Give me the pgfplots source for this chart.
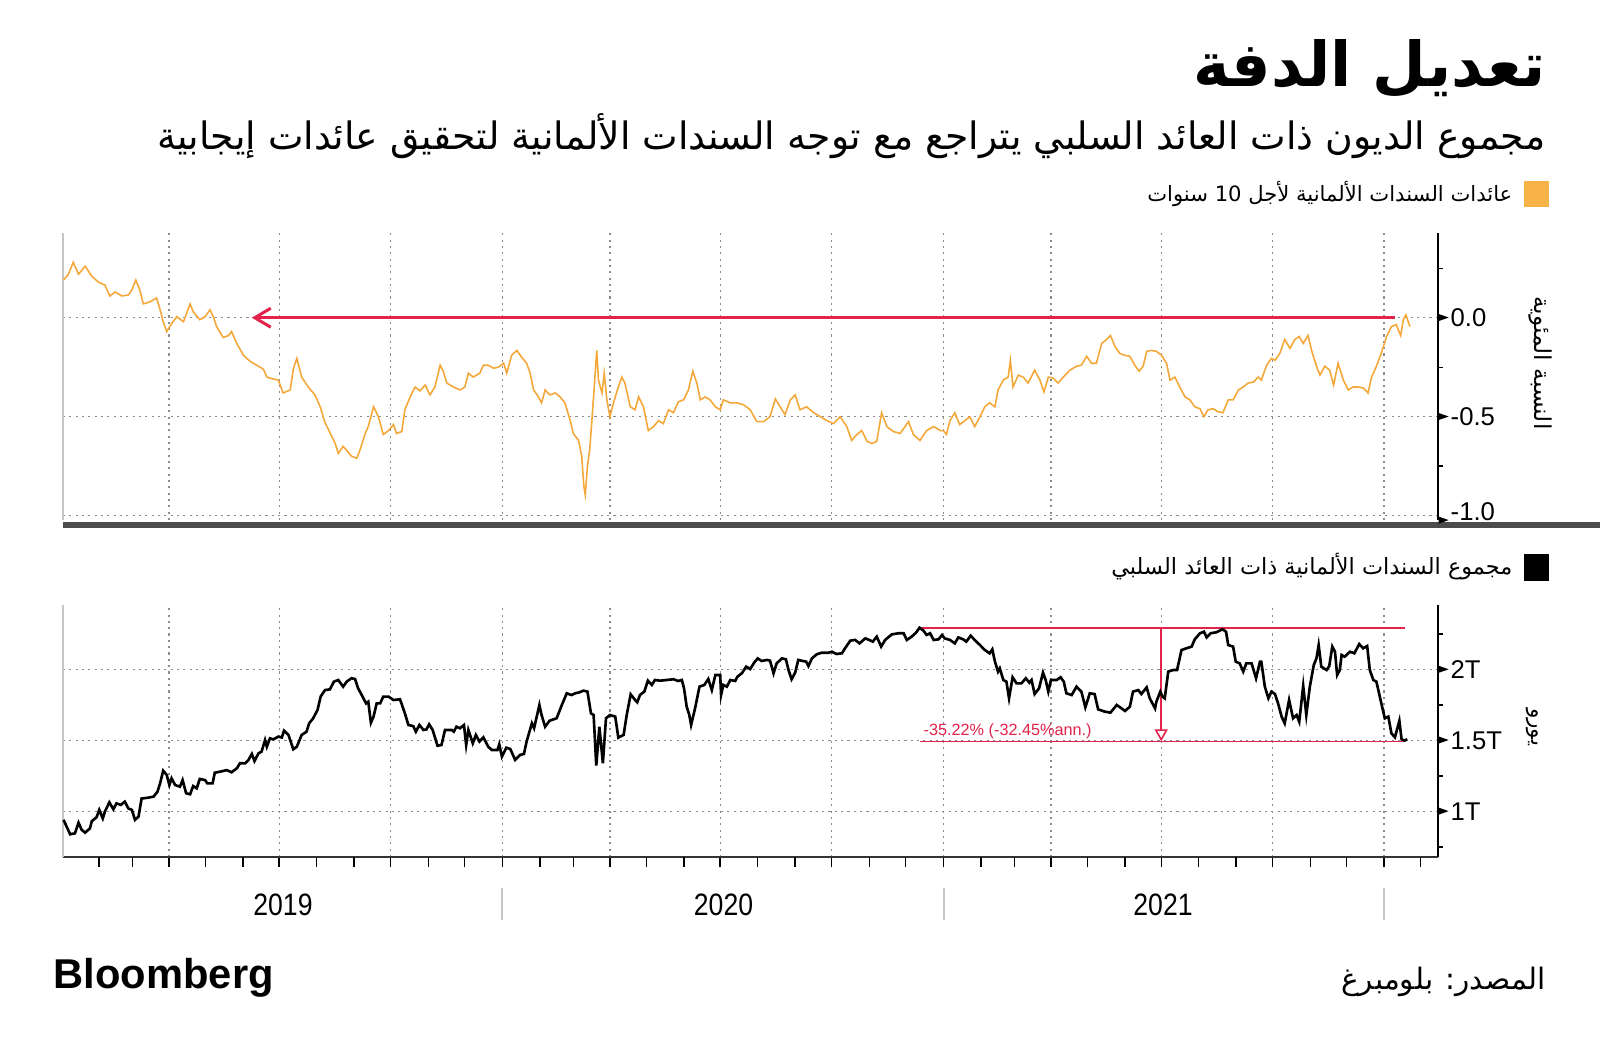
\documentclass[border=0pt]{standalone}
\usepackage{pgfplots}
\pgfplotsset{compat=1.18}
\usepackage{pgfplotstable}
\usetikzlibrary{arrows.meta}
\usepackage{fontspec}
\setmainfont{Liberation Sans}
\newfontfamily\arabicfont[Script=Arabic]{DejaVu Sans}
\TeXXeTstate=1
\definecolor{yorange}{RGB}{244,168,58}
\definecolor{legorange}{RGB}{247,178,72}
\definecolor{annred}{RGB}{226,35,75}
\definecolor{gridgray}{RGB}{140,140,140}

\pgfplotstableread{
t v
2019.008 0.19
2019.019 0.22
2019.030 0.28
2019.042 0.22
2019.057 0.26
2019.072 0.21
2019.087 0.18
2019.102 0.165
2019.113 0.11
2019.125 0.13
2019.140 0.11
2019.155 0.115
2019.163 0.14
2019.172 0.19
2019.181 0.14
2019.189 0.07
2019.204 0.08
2019.219 0.10
2019.227 0.04
2019.234 -0.02
2019.242 -0.07
2019.253 -0.03
2019.265 0.005
2019.280 -0.02
2019.295 0.07
2019.302 0.03
2019.317 -0.01
2019.329 0.005
2019.340 0.04
2019.348 0.005
2019.355 -0.045
2019.370 -0.10
2019.382 -0.09
2019.389 -0.07
2019.401 -0.13
2019.416 -0.19
2019.431 -0.22
2019.446 -0.24
2019.461 -0.26
2019.469 -0.30
2019.484 -0.31
2019.495 -0.315
2019.506 -0.38
2019.522 -0.365
2019.529 -0.26
2019.537 -0.205
2019.548 -0.30
2019.563 -0.35
2019.578 -0.39
2019.590 -0.45
2019.601 -0.53
2019.612 -0.58
2019.624 -0.635
2019.631 -0.685
2019.642 -0.65
2019.650 -0.67
2019.661 -0.70
2019.673 -0.71
2019.680 -0.67
2019.692 -0.585
2019.699 -0.55
2019.711 -0.45
2019.722 -0.50
2019.733 -0.59
2019.745 -0.57
2019.756 -0.54
2019.763 -0.585
2019.775 -0.575
2019.782 -0.465
2019.794 -0.40
2019.805 -0.35
2019.816 -0.37
2019.828 -0.34
2019.839 -0.39
2019.850 -0.35
2019.862 -0.24
2019.869 -0.27
2019.877 -0.33
2019.892 -0.35
2019.907 -0.365
2019.918 -0.35
2019.926 -0.28
2019.937 -0.30
2019.952 -0.28
2019.960 -0.24
2019.971 -0.24
2019.983 -0.255
2019.994 -0.25
2020.006 -0.23
2020.013 -0.28
2020.024 -0.19
2020.036 -0.165
2020.047 -0.20
2020.058 -0.23
2020.066 -0.28
2020.074 -0.365
2020.085 -0.40
2020.092 -0.43
2020.100 -0.365
2020.111 -0.39
2020.123 -0.38
2020.134 -0.40
2020.145 -0.43
2020.157 -0.52
2020.164 -0.585
2020.176 -0.62
2020.183 -0.70
2020.188 -0.855
2020.191 -0.895
2020.196 -0.75
2020.201 -0.67
2020.206 -0.52
2020.211 -0.365
2020.217 -0.165
2020.221 -0.315
2020.229 -0.38
2020.234 -0.28
2020.240 -0.415
2020.247 -0.50
2020.255 -0.43
2020.266 -0.35
2020.274 -0.30
2020.281 -0.33
2020.293 -0.45
2020.304 -0.465
2020.312 -0.40
2020.323 -0.45
2020.334 -0.57
2020.346 -0.55
2020.357 -0.52
2020.368 -0.535
2020.380 -0.465
2020.391 -0.48
2020.402 -0.425
2020.414 -0.415
2020.425 -0.365
2020.435 -0.27
2020.444 -0.33
2020.452 -0.415
2020.463 -0.40
2020.474 -0.415
2020.486 -0.45
2020.497 -0.465
2020.504 -0.415
2020.520 -0.43
2020.535 -0.43
2020.550 -0.44
2020.565 -0.465
2020.580 -0.525
2020.595 -0.525
2020.610 -0.50
2020.622 -0.41
2020.633 -0.45
2020.644 -0.49
2020.656 -0.415
2020.667 -0.39
2020.678 -0.465
2020.693 -0.45
2020.709 -0.48
2020.724 -0.50
2020.739 -0.52
2020.754 -0.535
2020.769 -0.50
2020.784 -0.55
2020.795 -0.62
2020.807 -0.59
2020.818 -0.57
2020.830 -0.625
2020.841 -0.635
2020.852 -0.625
2020.863 -0.48
2020.875 -0.55
2020.890 -0.575
2020.905 -0.585
2020.924 -0.525
2020.935 -0.59
2020.950 -0.62
2020.965 -0.57
2020.981 -0.55
2020.996 -0.57
2021.003 -0.57
2021.010 -0.59
2021.018 -0.52
2021.029 -0.48
2021.040 -0.54
2021.052 -0.52
2021.063 -0.50
2021.074 -0.55
2021.086 -0.50
2021.097 -0.45
2021.108 -0.43
2021.120 -0.45
2021.127 -0.365
2021.139 -0.315
2021.150 -0.30
2021.155 -0.215
2021.161 -0.35
2021.173 -0.29
2021.184 -0.30
2021.195 -0.33
2021.210 -0.265
2021.222 -0.315
2021.231 -0.375
2021.241 -0.30
2021.252 -0.305
2021.263 -0.33
2021.275 -0.30
2021.290 -0.265
2021.305 -0.245
2021.316 -0.24
2021.328 -0.195
2021.339 -0.23
2021.350 -0.23
2021.362 -0.13
2021.373 -0.11
2021.382 -0.09
2021.392 -0.145
2021.403 -0.18
2021.414 -0.19
2021.426 -0.195
2021.437 -0.24
2021.447 -0.27
2021.456 -0.245
2021.464 -0.17
2021.475 -0.165
2021.486 -0.17
2021.498 -0.19
2021.509 -0.23
2021.517 -0.315
2021.528 -0.30
2021.539 -0.35
2021.551 -0.40
2021.562 -0.415
2021.573 -0.45
2021.585 -0.46
2021.594 -0.50
2021.603 -0.465
2021.615 -0.46
2021.626 -0.475
2021.637 -0.48
2021.649 -0.415
2021.660 -0.415
2021.672 -0.365
2021.683 -0.35
2021.694 -0.33
2021.706 -0.325
2021.717 -0.30
2021.724 -0.315
2021.736 -0.24
2021.747 -0.205
2021.755 -0.215
2021.766 -0.18
2021.777 -0.11
2021.789 -0.155
2021.800 -0.11
2021.810 -0.095
2021.819 -0.13
2021.830 -0.09
2021.838 -0.165
2021.849 -0.245
2021.857 -0.29
2021.868 -0.245
2021.879 -0.265
2021.888 -0.34
2021.898 -0.23
2021.910 -0.315
2021.921 -0.365
2021.932 -0.35
2021.944 -0.35
2021.955 -0.355
2021.966 -0.38
2021.974 -0.30
2021.985 -0.245
2021.996 -0.18
2022.008 -0.095
2022.019 -0.045
2022.030 -0.035
2022.040 -0.09
2022.046 -0.01
2022.052 0.015
2022.061 -0.045
}\yielddata

\pgfplotstableread{
t v
2019.008 0.94
2019.023 0.838
2019.034 0.845
2019.042 0.92
2019.049 0.87
2019.057 0.85
2019.068 0.88
2019.072 0.93
2019.083 0.958
2019.089 1.01
2019.097 0.95
2019.102 1.00
2019.112 1.063
2019.121 1.014
2019.128 1.056
2019.138 1.045
2019.147 1.068
2019.155 1.02
2019.163 1.01
2019.170 0.94
2019.178 0.962
2019.185 1.09
2019.200 1.096
2019.212 1.103
2019.221 1.138
2019.227 1.197
2019.234 1.286
2019.242 1.256
2019.248 1.185
2019.253 1.232
2019.261 1.185
2019.272 1.174
2019.278 1.22
2019.286 1.127
2019.295 1.12
2019.302 1.178
2019.310 1.162
2019.317 1.228
2019.329 1.22
2019.334 1.197
2019.346 1.197
2019.351 1.272
2019.363 1.279
2019.378 1.29
2019.389 1.275
2019.401 1.303
2019.408 1.338
2019.420 1.338
2019.427 1.36
2019.435 1.404
2019.441 1.354
2019.450 1.408
2019.457 1.42
2019.465 1.502
2019.469 1.455
2019.476 1.514
2019.484 1.507
2019.495 1.526
2019.503 1.52
2019.508 1.568
2019.518 1.538
2019.529 1.437
2019.537 1.455
2019.548 1.538
2019.559 1.561
2019.565 1.62
2019.574 1.655
2019.584 1.714
2019.591 1.808
2019.601 1.854
2019.612 1.859
2019.621 1.913
2019.631 1.925
2019.642 1.878
2019.650 1.913
2019.661 1.937
2019.669 1.932
2019.676 1.866
2019.684 1.82
2019.694 1.76
2019.699 1.772
2019.705 1.624
2019.711 1.667
2019.718 1.76
2019.726 1.76
2019.733 1.808
2019.745 1.808
2019.756 1.784
2019.771 1.789
2019.782 1.69
2019.790 1.608
2019.801 1.60
2019.807 1.561
2019.815 1.608
2019.824 1.573
2019.831 1.577
2019.837 1.613
2019.845 1.573
2019.856 1.462
2019.865 1.467
2019.873 1.573
2019.888 1.573
2019.893 1.561
2019.899 1.596
2019.907 1.585
2019.916 1.608
2019.921 1.467
2019.926 1.573
2019.936 1.479
2019.943 1.538
2019.951 1.491
2019.960 1.521
2019.971 1.455
2019.979 1.432
2019.992 1.432
2019.996 1.472
2020.002 1.385
2020.012 1.448
2020.021 1.439
2020.032 1.362
2020.043 1.397
2020.052 1.404
2020.058 1.491
2020.070 1.62
2020.075 1.585
2020.081 1.667
2020.087 1.749
2020.092 1.678
2020.100 1.596
2020.110 1.638
2020.126 1.655
2020.138 1.749
2020.149 1.831
2020.160 1.819
2020.168 1.831
2020.176 1.836
2020.187 1.85
2020.196 1.843
2020.204 1.69
2020.210 1.678
2020.216 1.322
2020.223 1.596
2020.231 1.338
2020.238 1.655
2020.247 1.678
2020.259 1.667
2020.266 1.519
2020.278 1.538
2020.285 1.678
2020.294 1.824
2020.304 1.784
2020.309 1.768
2020.315 1.819
2020.325 1.843
2020.333 1.92
2020.342 1.89
2020.349 1.925
2020.361 1.92
2020.376 1.925
2020.391 1.93
2020.402 1.918
2020.410 1.925
2020.415 1.866
2020.421 1.737
2020.427 1.678
2020.431 1.608
2020.440 1.725
2020.450 1.878
2020.461 1.89
2020.470 1.932
2020.478 1.854
2020.486 1.96
2020.497 1.96
2020.499 1.819
2020.504 1.89
2020.512 1.878
2020.520 1.925
2020.531 1.918
2020.536 1.948
2020.546 1.972
2020.556 2.019
2020.565 2.002
2020.574 2.047
2020.582 2.077
2020.591 2.059
2020.603 2.066
2020.610 2.061
2020.618 1.972
2020.625 2.042
2020.637 2.077
2020.646 2.07
2020.652 1.995
2020.659 1.93
2020.667 1.977
2020.674 2.066
2020.684 2.059
2020.692 2.054
2020.697 2.023
2020.705 2.077
2020.716 2.106
2020.727 2.117
2020.743 2.117
2020.750 2.124
2020.761 2.108
2020.773 2.113
2020.780 2.148
2020.792 2.202
2020.803 2.207
2020.813 2.183
2020.826 2.218
2020.835 2.207
2020.843 2.195
2020.852 2.23
2020.862 2.16
2020.871 2.207
2020.886 2.246
2020.901 2.254
2020.913 2.254
2020.920 2.207
2020.931 2.23
2020.941 2.258
2020.949 2.293
2020.958 2.272
2020.965 2.242
2020.973 2.254
2020.981 2.207
2020.992 2.211
2021.000 2.242
2021.006 2.218
2021.018 2.207
2021.029 2.183
2021.037 2.225
2021.048 2.211
2021.055 2.195
2021.065 2.237
2021.074 2.207
2021.086 2.171
2021.097 2.136
2021.108 2.113
2021.114 2.141
2021.120 2.054
2021.127 1.984
2021.131 2.007
2021.139 1.925
2021.146 1.913
2021.152 1.796
2021.160 1.944
2021.169 1.901
2021.180 1.901
2021.190 1.937
2021.198 1.906
2021.203 1.925
2021.210 1.826
2021.220 1.866
2021.229 1.977
2021.235 1.925
2021.241 1.843
2021.247 1.925
2021.260 1.925
2021.269 1.944
2021.276 1.913
2021.282 1.831
2021.294 1.819
2021.305 1.878
2021.316 1.843
2021.325 1.732
2021.335 1.831
2021.346 1.826
2021.354 1.718
2021.369 1.702
2021.382 1.695
2021.396 1.749
2021.407 1.725
2021.415 1.707
2021.426 1.737
2021.433 1.843
2021.445 1.854
2021.452 1.826
2021.464 1.873
2021.471 1.796
2021.483 1.725
2021.486 1.772
2021.495 1.843
2021.500 1.808
2021.505 1.796
2021.513 1.984
2021.524 1.995
2021.533 1.995
2021.543 2.136
2021.554 2.148
2021.566 2.160
2021.573 2.211
2021.585 2.254
2021.594 2.265
2021.600 2.225
2021.609 2.254
2021.622 2.261
2021.636 2.282
2021.644 2.265
2021.649 2.171
2021.660 2.16
2021.666 2.054
2021.675 2.042
2021.683 1.984
2021.690 2.042
2021.702 2.042
2021.712 1.937
2021.721 2.054
2021.724 2.054
2021.732 1.878
2021.740 1.796
2021.747 1.843
2021.755 1.826
2021.762 1.76
2021.770 1.667
2021.777 1.62
2021.787 1.784
2021.796 1.655
2021.804 1.678
2021.810 1.631
2021.819 1.883
2021.826 1.678
2021.834 1.878
2021.843 2.031
2021.849 2.077
2021.854 2.171
2021.860 2.019
2021.872 1.995
2021.878 2.023
2021.885 2.16
2021.891 2.124
2021.896 1.96
2021.902 1.995
2021.906 2.101
2021.913 2.089
2021.925 2.124
2021.935 2.113
2021.946 2.178
2021.955 2.148
2021.964 2.164
2021.970 1.995
2021.978 1.925
2021.985 1.913
2021.997 1.749
2022.004 1.655
2022.012 1.667
2022.019 1.549
2022.027 1.521
2022.037 1.638
2022.042 1.507
2022.049 1.498
2022.055 1.507
}\debtdata

\pgfplotsset{
  myaxis/.style={
    scale only axis,
    width=13.75cm,
    xmin=2019.0068, xmax=2022.1247,
    axis x line*=bottom,
    axis y line*=right,
    xtick={2019.247,2019.497,2019.749,2020.004,2020.247,2020.497,2020.749,2021.004,2021.247,2021.497,2021.749,2022.002},
    xticklabels={},
    grid=major,
    major grid style={gridgray, line width=0.35pt, dash pattern=on 0.6pt off 1.2pt},
    y axis line style={black, line width=0.6pt},
    tick align=outside,
    major tick length=0.1cm,
    minor tick length=0.05cm,
    major y tick style={draw=none},
    minor y tick style={black, line width=0.4pt},
    major x tick style={black, line width=0.4pt},
    yticklabel style={anchor=west, inner sep=0pt, xshift=-0.1cm, font=\fontsize{7.3}{8}\selectfont},
    clip=false,
  }
}

\newsavebox\tribox
\sbox\tribox{\tikz[baseline={(0cm,-0.09cm)}]\fill (0cm,0.035cm)--(0.1cm,0cm)--(0cm,-0.035cm)--cycle;}

\begin{document}%
\begin{tikzpicture}
\fill[white] (0,0) rectangle (16,10.58);
\path[use as bounding box] (0,0) rectangle (16,10.58);

% Title and subtitle
\node[anchor=east, inner sep=0pt] at (15.46,9.89) {\resizebox{3.52cm}{!}{\arabicfont\bfseries\beginR تعديل الدفة\endR}};
\node[anchor=east, inner sep=0pt] at (15.46,9.22) {\resizebox{13.88cm}{!}{\arabicfont\beginR مجموع الديون ذات العائد السلبي يتراجع مع توجه السندات الألمانية لتحقيق عائدات إيجابية\endR}};

% Legend 1
\fill[legorange] (15.24,8.51) rectangle (15.49,8.77);
\node[anchor=east, inner sep=0pt] at (15.13,8.64) {\resizebox{3.65cm}{!}{\arabicfont\beginR عائدات السندات الألمانية لأجل \beginL 10\endL{} سنوات\endR}};

% separator under the top panel
\draw[black!70, line width=0.06cm] (0.63,5.335) -- (16,5.335);

% Top panel
\begin{axis}[myaxis, at={(0.63cm,5.38cm)}, anchor=south west, height=2.87cm,
  ymin=-1.022, ymax=0.428, ytick={-1,-0.5,0}, minor ytick={-0.75,-0.25,0.25},
  yticklabels={{\usebox\tribox\hspace{0.02cm}\raisebox{0.09cm}{-1.0}},{\usebox\tribox\hspace{0.02cm}-0.5},{\usebox\tribox\hspace{0.02cm}0.0}},
  x axis line style={draw=none}, major x tick style={draw=none}]
  \draw[gray!45, line width=0.5pt] (rel axis cs:0,0) -- (rel axis cs:0,1);
  \addplot[yorange, line width=0.45pt] table[x=t,y=v]{\yielddata};
  \draw[annred, line width=0.85pt, -{Straight Barb[length=1.6mm,width=1.9mm]}] (axis cs:2022.027,0) -- (axis cs:2019.435,0);
\end{axis}
\node[rotate=-90] at (15.40,6.95) {\resizebox{1.33cm}{!}{\arabicfont\beginR النسبة المئوية\endR}};

% Legend 2
\fill[black] (15.24,4.77) rectangle (15.49,5.04);
\node[anchor=east, inner sep=0pt] at (15.13,4.91) {\resizebox{4.01cm}{!}{\arabicfont\beginR مجموع السندات الألمانية ذات العائد السلبي\endR}};

% Bottom panel
\begin{axis}[myaxis, at={(0.63cm,2.01cm)}, anchor=south west, height=2.52cm,
  ymin=0.678, ymax=2.453, ytick={1,1.5,2}, minor ytick={0.75,1.25,1.75,2.25},
  yticklabels={{\usebox\tribox\hspace{0.02cm}1T},{\usebox\tribox\hspace{0.02cm}1.5T},{\usebox\tribox\hspace{0.02cm}2T}},
  x axis line style={black!80, line width=0.6pt},
  extra x ticks={2019.088,2019.164,2019.33,2019.415,2019.582,2019.667,2019.835,2019.917,2020.088,2020.164,2020.33,2020.415,2020.582,2020.667,2020.835,2020.917,2021.088,2021.164,2021.33,2021.415,2021.582,2021.667,2021.835,2021.917,2022.085},
  extra x tick labels={}, extra x tick style={grid=none}]
  \draw[gray!45, line width=0.5pt] (rel axis cs:0,0) -- (rel axis cs:0,1);
  \addplot[annred, line width=0.45pt] coordinates {(2020.949,2.293) (2022.05,2.293)};
  \addplot[annred, line width=0.45pt] coordinates {(2020.95,1.493) (2022.05,1.493)};
  \draw[annred, line width=0.45pt, -{Triangle[open,fill=white,length=1.2mm,width=1.3mm]}] (axis cs:2021.497,2.293) -- (axis cs:2021.497,1.493);
  \node[anchor=south west, inner sep=0.6pt, text=annred] at (axis cs:2020.952,1.493) {\resizebox{1.68cm}{!}{-35.22\% (-32.45\%ann.)}};
  \addplot[black, line width=0.75pt] table[x=t,y=v]{\debtdata};
\end{axis}
\node[rotate=-90] at (15.32,3.31) {\resizebox{0.38cm}{!}{\arabicfont\beginR يورو\endR}};

% Year labels
\foreach \xx/\yy in {2.83/2019, 7.235/2020, 11.63/2021}
  \node at (\xx,1.53) {\fontsize{8.8}{10}\selectfont\scalebox{0.86}[1]{\yy}};
\foreach \xx in {5.02,9.44,13.84}
  \draw[gray!45, line width=0.4pt] (\xx,1.70) -- (\xx,1.38);

% Footer
\node[anchor=west, inner sep=0pt] at (0.53,0.80) {\resizebox{2.2cm}{!}{\bfseries Bloomberg}};
\node[anchor=east, inner sep=0pt] at (15.46,0.76) {\resizebox{2.04cm}{!}{\arabicfont\beginR المصدر: بلومبرغ\endR}};
\end{tikzpicture}%
\end{document}
